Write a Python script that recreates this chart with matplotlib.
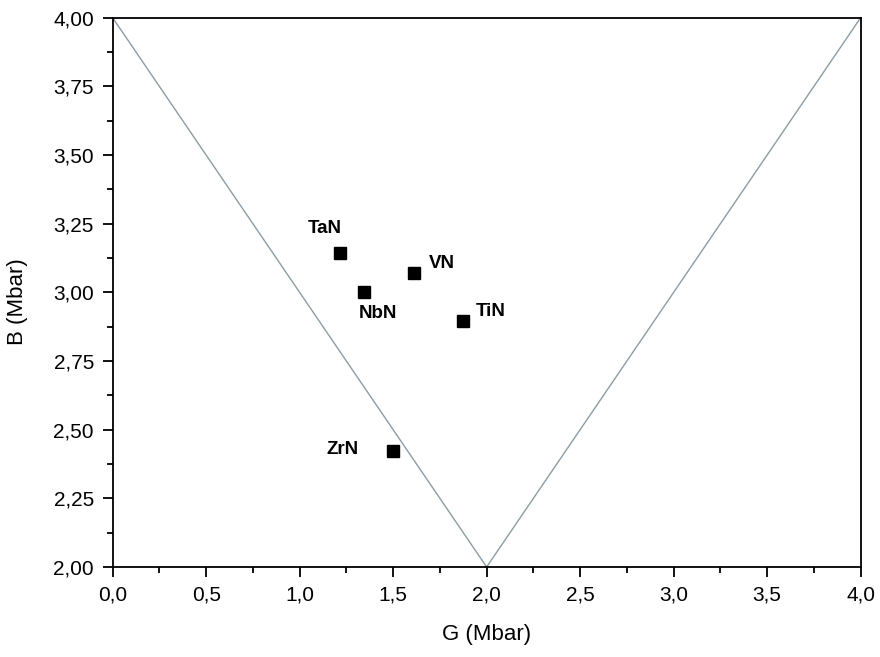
import matplotlib
matplotlib.use('Agg')
import matplotlib.pyplot as plt
from matplotlib.ticker import FuncFormatter, MultipleLocator

plt.rcParams['font.family'] = ['Liberation Sans', 'DejaVu Sans']

# compounds, shear modulus G and bulk modulus B (Mbar)
names = ['TaN', 'VN', 'NbN', 'TiN', 'ZrN']
G = [1.216, 1.613, 1.344, 1.875, 1.497]
B = [3.145, 3.071, 3.000, 2.896, 2.422]
# label offsets in points
offs = [(-11, 17), (20, 7), (10, -15), (20, 7), (-36, 1)]

# boundary lines B = 4 - G and B = G
bx = [0, 2, 4]
by = [4, 2, 4]

fig = plt.figure(figsize=(8.8, 6.57), dpi=100)
ax = fig.add_axes([0.128, 0.137, 0.85, 0.836])

ax.plot(bx, by, color='#8c9ca4', linewidth=1)
ax.plot(G, B, 's', color='black', markersize=8.5, linestyle='none')
for n, g, b, o in zip(names, G, B, offs):
    ax.annotate(n, (g, b), xytext=o, textcoords='offset points',
                ha='center', va='center', fontsize=13.5, fontweight='bold')

ax.set_xlim(0, 4)
ax.set_ylim(2, 4)
ax.xaxis.set_major_locator(MultipleLocator(0.5))
ax.xaxis.set_minor_locator(MultipleLocator(0.25))
ax.yaxis.set_major_locator(MultipleLocator(0.25))
ax.yaxis.set_minor_locator(MultipleLocator(0.125))
ax.xaxis.set_major_formatter(FuncFormatter(lambda v, p: f'{v:.1f}'.replace('.', ',')))
ax.yaxis.set_major_formatter(FuncFormatter(lambda v, p: f'{v:.2f}'.replace('.', ',')))

ax.tick_params(which='both', direction='out', top=False, right=False, width=1.3)
ax.tick_params(which='major', length=7.5, labelsize=15, pad=6)
ax.tick_params(which='minor', length=4.5)
for s in ax.spines.values():
    s.set_linewidth(1.3)

ax.set_xlabel('G (Mbar)', fontsize=16, labelpad=14)
ax.set_ylabel('B (Mbar)', fontsize=16)
ax.yaxis.set_label_coords(-0.113, 0.483)

fig.savefig('out.png', dpi=100)
